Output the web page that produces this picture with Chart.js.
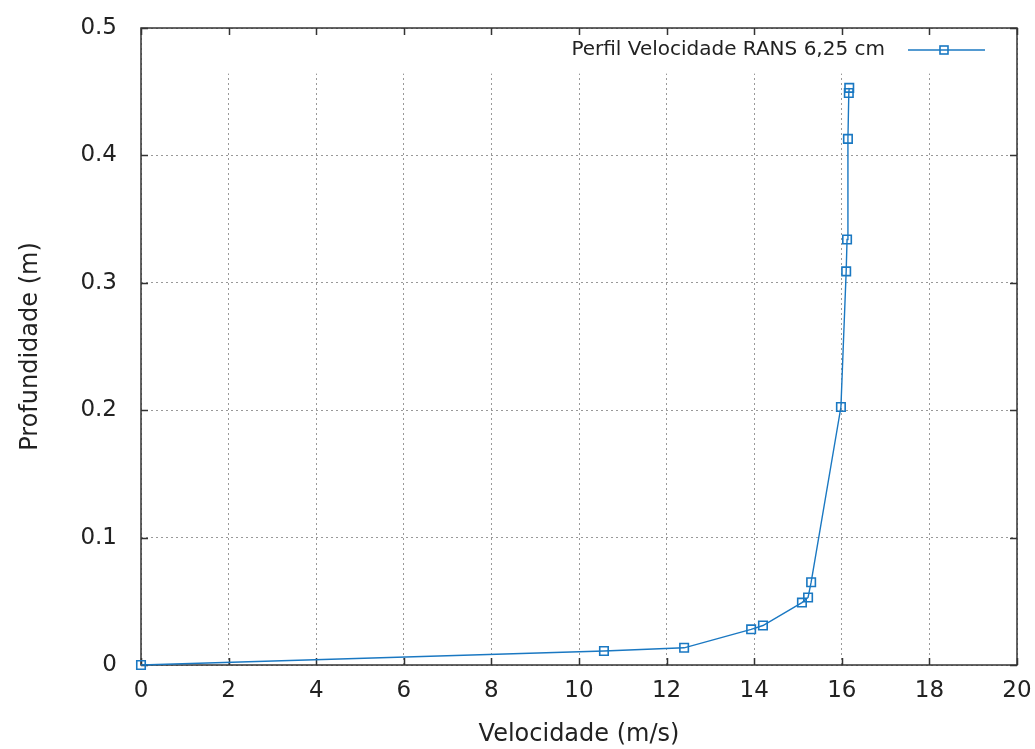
<!DOCTYPE html>
<html>
<head>
<meta charset="utf-8">
<style>
  html, body { margin: 0; padding: 0; background: #fff; }
  #wrap { width: 1035px; height: 749px; position: relative; }
</style>
<script src="https://cdn.jsdelivr.net/npm/chart.js@4.4.1/dist/chart.umd.min.js"></script>
</head>
<body>
<div id="wrap"><canvas id="c" width="1035" height="749"></canvas></div>
<script>
// Velocity profile (RANS), depth vs. velocity
const serieNome = 'Perfil Velocidade RANS 6,25 cm';
const velocidade = [0, 10.57, 12.40, 13.93, 14.20, 15.09, 15.23, 15.30, 15.98, 16.10, 16.12, 16.14, 16.16, 16.17];
const profundidade = [0, 0.011, 0.0135, 0.028, 0.031, 0.049, 0.053, 0.065, 0.2025, 0.309, 0.334, 0.413, 0.449, 0.453];
const xTicks = [0, 2, 4, 6, 8, 10, 12, 14, 16, 18, 20];
const yTicks = [0, 0.1, 0.2, 0.3, 0.4, 0.5];

const azul = '#1a78c2';
const fonte = "'DejaVu Sans', sans-serif";

const pontos = velocidade.map((v, i) => ({ x: v, y: profundidade[i] }));

// Frame, inward ticks, cleared key strip and key entry
const moldura = {
  id: 'moldura',
  beforeDatasetsDraw(chart) {
    const { ctx, chartArea: a, scales } = chart;
    const yKey = scales.y.getPixelForValue(0.465);
    ctx.save();
    ctx.fillStyle = '#fff';
    ctx.fillRect(a.left + 1, a.top + 1, a.right - a.left - 2, yKey - a.top);
    ctx.strokeStyle = '#333';
    ctx.lineWidth = 1.5;
    ctx.strokeRect(a.left, a.top, a.right - a.left, a.bottom - a.top);
    ctx.beginPath();
    const t = 7;
    xTicks.forEach(v => {
      const px = Math.round(scales.x.getPixelForValue(v)) + 0.5;
      ctx.moveTo(px, a.bottom); ctx.lineTo(px, a.bottom - t);
      ctx.moveTo(px, a.top); ctx.lineTo(px, a.top + t);
    });
    yTicks.forEach(v => {
      const py = Math.round(scales.y.getPixelForValue(v)) + 0.5;
      ctx.moveTo(a.left, py); ctx.lineTo(a.left + t, py);
      ctx.moveTo(a.right, py); ctx.lineTo(a.right - t, py);
    });
    ctx.stroke();
    ctx.restore();
  },
  afterDraw(chart) {
    const { ctx } = chart;
    ctx.save();
    // key entry
    const ky = 50;
    ctx.fillStyle = '#222';
    ctx.font = '20px ' + fonte;
    ctx.textAlign = 'right';
    ctx.textBaseline = 'middle';
    ctx.fillText(chart.data.datasets[0].label, 885, ky);
    ctx.strokeStyle = azul;
    ctx.lineWidth = 1.4;
    ctx.beginPath();
    ctx.moveTo(908, ky); ctx.lineTo(985, ky);
    ctx.stroke();
    ctx.lineWidth = 1.6;
    ctx.strokeRect(940, ky - 4, 8, 8);
    ctx.restore();
  }
};

new Chart(document.getElementById('c'), {
  type: 'line',
  data: {
    datasets: [{
      label: serieNome,
      data: pontos,
      borderColor: azul,
      borderWidth: 1.4,
      backgroundColor: 'rgba(0,0,0,0)',
      pointStyle: 'rect',
      pointRadius: 6,
      pointBorderWidth: 1.6,
      pointBorderColor: azul,
      pointBackgroundColor: 'rgba(0,0,0,0)',
      tension: 0,
      fill: false,
      clip: false
    }]
  },
  options: {
    responsive: false,
    animation: false,
    events: [],
    layout: { padding: { left: 0, top: 28, right: 18, bottom: 0 } },
    plugins: { legend: { display: false }, tooltip: { enabled: false } },
    scales: {
      x: {
        type: 'linear',
        min: 0, max: 20,
        afterBuildTicks(s) { s.ticks = xTicks.map(v => ({ value: v })); },
        afterFit(s) { s.height = 84; s.paddingLeft = 0; s.paddingRight = 0; },
        grid: { color: '#999', lineWidth: 1, drawTicks: false, tickLength: 0 },
        border: { display: false, dash: [2, 3] },
        ticks: {
          padding: 12,
          color: '#222',
          font: { family: fonte, size: 23 },
          callback: v => String(v),
          maxRotation: 0
        },
        title: {
          display: true,
          text: 'Velocidade (m/s)',
          color: '#222',
          font: { family: fonte, size: 24 },
          padding: { top: 0, bottom: 0 }
        }
      },
      y: {
        type: 'linear',
        min: 0, max: 0.5,
        afterBuildTicks(s) { s.ticks = yTicks.map(v => ({ value: v })); },
        afterFit(s) { s.width = 141; s.paddingTop = 0; s.paddingBottom = 0; },
        grid: { color: '#999', lineWidth: 1, drawTicks: false, tickLength: 0 },
        border: { display: false, dash: [2, 3] },
        ticks: {
          padding: 24,
          color: '#222',
          font: { family: fonte, size: 23 },
          callback: v => (v === 0 ? '0' : v.toFixed(1))
        },
        title: {
          display: true,
          text: 'Profundidade (m)',
          color: '#222',
          font: { family: fonte, size: 24 },
          padding: { top: 16, bottom: 0 }
        }
      }
    }
  },
  plugins: [moldura]
});
</script>
</body>
</html>
